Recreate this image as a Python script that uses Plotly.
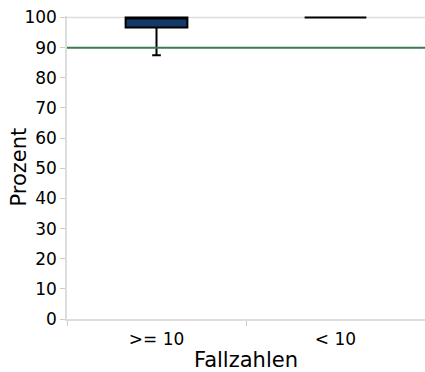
import plotly.graph_objects as go

categories = [">= 10", "< 10"]
q1 = [96.7, 100.0]
median = [100.0, 100.0]
q3 = [100.0, 100.0]
lowerfence = [87.5, 100.0]
upperfence = [100.0, 100.0]
target = 90
y_ticks = [0, 10, 20, 30, 40, 50, 60, 70, 80, 90, 100]

fig = go.Figure()
fig.add_trace(go.Box(
    x=categories, q1=q1, median=median, q3=q3,
    lowerfence=lowerfence, upperfence=upperfence,
    fillcolor="#123a68", line=dict(color="#000000", width=2),
    whiskerwidth=0.14, boxpoints=False, showlegend=False,
    hoverinfo="skip",
))
# light border line at the top value
fig.add_shape(type="line", xref="paper", x0=0, x1=1, y0=y_ticks[-1], y1=y_ticks[-1],
              line=dict(color="#dddddd", width=1.5), layer="below")
fig.add_shape(type="line", xref="paper", x0=0, x1=1, y0=target, y1=target,
              line=dict(color="#3d7a4f", width=2), layer="above")
fig.add_annotation(text="Prozent", xref="paper", yref="paper",
                   x=(18 - 67) / 358, y=0.5, xanchor="center", yanchor="middle",
                   textangle=-90, showarrow=False, font=dict(size=21))

fig.update_layout(
    width=425, height=372,
    margin=dict(l=67, r=0, t=16, b=53),
    plot_bgcolor="white", paper_bgcolor="white",
    boxgap=0.655, boxgroupgap=0,
    font=dict(family="DejaVu Sans", size=17, color="#000"),
    xaxis=dict(
        title=dict(text="Fallzahlen", font=dict(size=21), standoff=7),
        type="category", tickson="boundaries", ticks="outside", ticklen=5,
        ticklabelstandoff=4,
        tickcolor="#cccccc", showline=True, linecolor="#dddddd", linewidth=1.5,
        showgrid=False, zeroline=False,
        tickfont=dict(size=17),
    ),
    yaxis=dict(
        range=[0, 100.5], tickvals=y_ticks, ticks="outside", ticklen=5,
        tickcolor="#cccccc", showline=True, linecolor="#dddddd", linewidth=1.5,
        showgrid=False, zeroline=False, tickfont=dict(size=17),
    ),
)
fig.write_html("out.html", config={"displayModeBar": False},
               post_script="document.body.style.margin='0px';")
